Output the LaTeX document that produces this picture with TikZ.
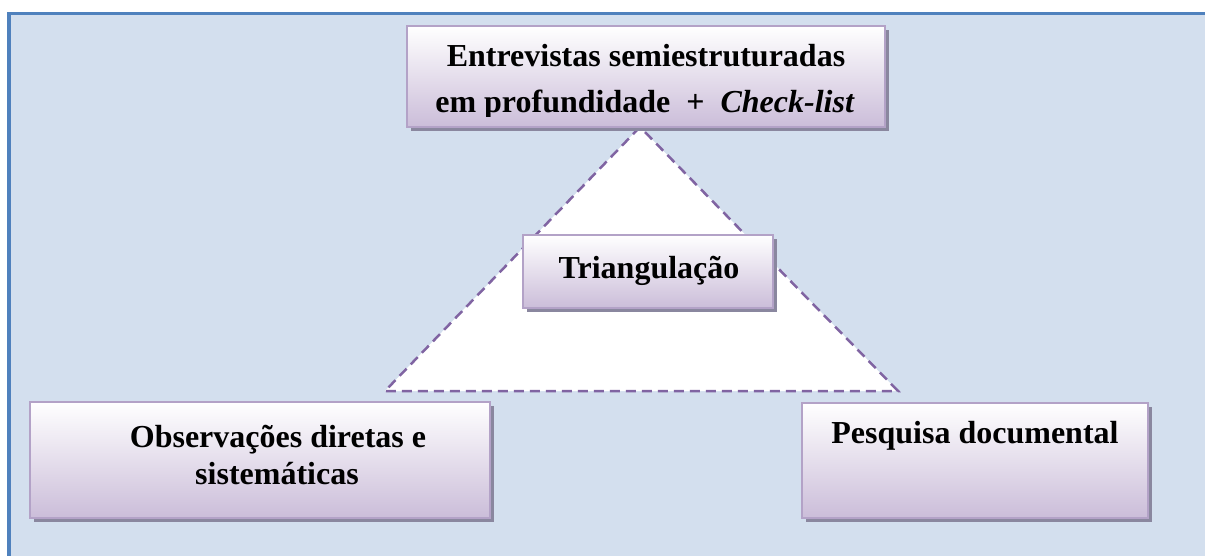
\documentclass[tikz,border=0pt]{standalone}
\usepackage{fontspec}
\setmainfont{Liberation Serif}
\usepackage{xcolor}
\usetikzlibrary{positioning, calc, shadows}

\definecolor{fundo}{HTML}{D3DFEE}
\definecolor{moldura}{HTML}{4F81BD}
\definecolor{lilas}{HTML}{CBBDD9}
\definecolor{bordalilas}{HTML}{B3A2C7}
\definecolor{sombra}{HTML}{8A879F}
\definecolor{tracejado}{HTML}{8064A2}

\tikzset{
  caixa/.style={draw=bordalilas, line width=1.5pt, top color=white, bottom color=lilas,
    drop shadow={shadow xshift=4pt, shadow yshift=-4pt, fill=sombra, opacity=1}},
  texto/.style={font=\fontsize{32}{38}\selectfont\bfseries, anchor=base, inner sep=0pt},
  triangulo/.style={draw=tracejado, fill=white, line width=2.5pt, dash pattern=on 10pt off 6pt}
}

\begin{document}
\begin{tikzpicture}[x=1pt, y=-1pt]
\useasboundingbox (0,0) rectangle (1205,556);
% fundo
\fill[white] (0,0) rectangle (1205,556);
\fill[fundo] (9,13) rectangle (1205,556);
\draw[moldura, line width=3.5pt] (9,556) -- (9,13.5) -- (1205,13.5);

% triangulo
\coordinate (topo) at (640,127);
\coordinate (esq) at (385,391);
\coordinate (dir) at (898,391);
\draw[triangulo] (topo) -- (esq) -- (dir) -- cycle;

% caixas
\node[caixa, minimum width=478pt, minimum height=101pt] (entrevistas) at (646,76.5) {};
\node[caixa, minimum width=250pt, minimum height=73pt] (triang) at (648,271.5) {};
\node[caixa, minimum width=460pt, minimum height=116pt] (observ) at (260,460) {};
\node[caixa, minimum width=346pt, minimum height=115pt] (pesquisa) at (975,460.5) {};

% textos
\begin{scope}
\clip (entrevistas.north west) rectangle ($(entrevistas.south east)+(0,-11)$);
\node[texto] (ent1) at (646,67) {Entrevistas semiestruturadas};
\node[texto] (ent2) at (645,113) {em profundidade \ + \ \textit{Check-list}};
\end{scope}
\node[texto] (tri) at (649,278) {Triangulação};
\node[texto] (obs1) at (278,447) {Observações diretas e};
\node[texto] (obs2) at (277,484) {sistemáticas};
\node[texto] (pes) at (975,443) {Pesquisa documental};
\end{tikzpicture}
\end{document}
